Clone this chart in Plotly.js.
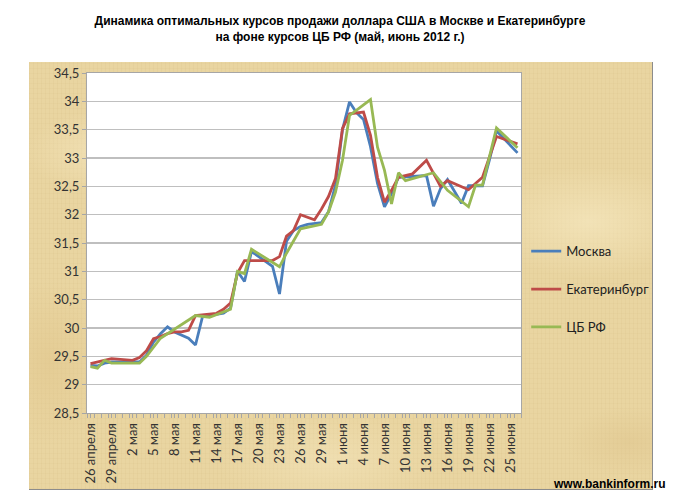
<!DOCTYPE html>
<html>
<head>
<meta charset="utf-8">
<script src="https://cdn.plot.ly/plotly-3.0.1.min.js"></script>
<style>
  html, body { margin: 0; padding: 0; background: #ffffff; }
  #wrap { position: relative; width: 680px; height: 500px; overflow: hidden; }
  #parch {
    position: absolute; left: 29px; top: 62px; width: 623px; height: 427px;
    background-color: #e9d5a1;
    background-image:
      radial-gradient(ellipse 120px 60px at 80px 90px, rgba(245,230,190,0.7), rgba(245,230,190,0) 70%),
      radial-gradient(ellipse 150px 80px at 560px 160px, rgba(246,232,192,0.7), rgba(246,232,192,0) 70%),
      radial-gradient(ellipse 160px 70px at 300px 400px, rgba(244,229,188,0.6), rgba(244,229,188,0) 70%),
      radial-gradient(ellipse 90px 50px at 600px 380px, rgba(222,196,140,0.5), rgba(222,196,140,0) 70%),
      radial-gradient(ellipse 80px 120px at 20px 300px, rgba(225,198,140,0.6), rgba(225,198,140,0) 70%),
      repeating-linear-gradient(90deg, rgba(200,170,110,0.10) 0px, rgba(200,170,110,0.10) 1px, rgba(0,0,0,0) 1px, rgba(0,0,0,0) 4px),
      repeating-linear-gradient(0deg, rgba(200,170,110,0.08) 0px, rgba(200,170,110,0.08) 1px, rgba(0,0,0,0) 1px, rgba(0,0,0,0) 5px);
    border-right: 1px solid #8c8c8c; border-bottom: 1px solid #8c8c8c;
  }
  #chart { position: absolute; left: 0; top: 0; width: 680px; height: 500px; }
</style>
</head>
<body>
<div id="wrap">
  <div id="parch"></div>
  <div id="chart"></div>
</div>
<script>
// Calendar days shown on the chart (one slot per day)
var days = [
  "2012-04-26","2012-04-27","2012-04-28","2012-04-29","2012-04-30",
  "2012-05-01","2012-05-02","2012-05-03","2012-05-04","2012-05-05",
  "2012-05-06","2012-05-07","2012-05-08","2012-05-09","2012-05-10",
  "2012-05-11","2012-05-12","2012-05-13","2012-05-14","2012-05-15",
  "2012-05-16","2012-05-17","2012-05-18","2012-05-19","2012-05-20",
  "2012-05-21","2012-05-22","2012-05-23","2012-05-24","2012-05-25",
  "2012-05-26","2012-05-27","2012-05-28","2012-05-29","2012-05-30",
  "2012-05-31","2012-06-01","2012-06-02","2012-06-03","2012-06-04",
  "2012-06-05","2012-06-06","2012-06-07","2012-06-08","2012-06-09",
  "2012-06-10","2012-06-11","2012-06-12","2012-06-13","2012-06-14",
  "2012-06-15","2012-06-16","2012-06-17","2012-06-18","2012-06-19",
  "2012-06-20","2012-06-21","2012-06-22","2012-06-23","2012-06-24",
  "2012-06-25","2012-06-26"
];

// Москва
var moscow = [
  29.34, 29.33, 29.38, 29.40, null,
  null, 29.40, 29.40, 29.52, 29.75,
  29.90, 30.02, 29.93, null, 29.82,
  29.70, 30.20, null, null, 30.26,
  30.35, 31.00, 30.82, 31.35, null,
  null, 31.09, 30.60, 31.53, 31.72,
  31.79, 31.83, null, 31.86, 32.05,
  32.52, 33.50, 33.99, 33.80, 33.68,
  33.20, 32.55, 32.14, 32.37, 32.66,
  null, null, null, 32.69, 32.15,
  32.46, 32.62, null, 32.20, 32.51,
  null, 32.51, 32.97, 33.48, null,
  null, 33.09
];

// Екатеринбург
var ekb = [
  29.37, 29.40, null, 29.46, null,
  null, 29.43, 29.48, 29.60, 29.81,
  29.85, 29.90, 29.93, 29.93, 29.96,
  30.22, null, null, 30.26, 30.33,
  30.44, 30.97, 31.19, null, null,
  null, 31.19, 31.26, 31.62, 31.72,
  32.00, null, 31.91, 32.10, 32.32,
  32.64, 33.52, 33.78, null, 33.81,
  33.40, 32.66, 32.22, 32.43, 32.66,
  null, 32.72, null, 32.96, null,
  32.50, 32.60, null, null, 32.44,
  null, 32.66, null, 33.38, null,
  null, 33.25
];

// ЦБ РФ
var cbr = [
  29.32, 29.29, 29.43, 29.38, null,
  null, null, 29.38, 29.50, null,
  29.82, null, null, null, null,
  30.22, null, 30.19, null, null,
  30.33, 31.00, 30.96, 31.39, null,
  null, null, 31.08, 31.32, null,
  31.75, null, null, 31.83, 32.05,
  32.40, 32.96, 33.75, null, null,
  34.03, 33.19, 32.78, 32.19, 32.74,
  32.60, null, null, null, 32.74,
  null, 32.43, null, null, 32.14,
  32.52, 32.52, null, 33.53, null,
  null, 33.18
];

var seriesNames = ["Москва", "Екатеринбург", "ЦБ РФ"];

var tickDays = ["2012-04-26","2012-04-29","2012-05-02","2012-05-05","2012-05-08",
  "2012-05-11","2012-05-14","2012-05-17","2012-05-20","2012-05-23","2012-05-26",
  "2012-05-29","2012-06-01","2012-06-04","2012-06-07","2012-06-10","2012-06-13",
  "2012-06-16","2012-06-19","2012-06-22","2012-06-25"];
var tickLabels = ["26 апреля","29 апреля","2 мая","5 мая","8 мая","11 мая","14 мая",
  "17 мая","20 мая","23 мая","26 мая","29 мая","1 июня","4 июня","7 июня","10 июня",
  "13 июня","16 июня","19 июня","22 июня","25 июня"];

var colors = ["#4a7ebb", "#be4b48", "#98b954"];
var vals = [moscow, ekb, cbr];

var traces = vals.map(function (v, i) {
  return {
    type: "scatter", mode: "lines", x: days, y: v, name: seriesNames[i],
    connectgaps: true, legendgroup: "g" + i,
    line: { color: colors[i], width: 2.8 }
  };
});

var layout = {
  width: 680, height: 500,
  paper_bgcolor: "rgba(0,0,0,0)", plot_bgcolor: "#ffffff",
  margin: { l: 87, r: 159, t: 73, b: 87 },
  separators: ", ",
  font: { family: "Lato, sans-serif", color: "#222" },
  title: {
    text: "Динамика оптимальных курсов продажи доллара США в Москве и Екатеринбурге<br>на фоне курсов ЦБ РФ (май, июнь 2012 г.)",
    font: { family: "Liberation Sans, Arial, sans-serif", size: 12, color: "#000", weight: "bold" },
    x: 0.5, xanchor: "center", xref: "container",
    y: 0.95, yanchor: "middle", yref: "container"
  },
  xaxis: {
    type: "date",
    range: ["2012-04-25 12:00", "2012-06-26 12:00"],
    tickmode: "array", tickvals: tickDays, ticktext: tickLabels,
    tickangle: -90, ticks: "outside", ticklen: 4, tickcolor: "#a6a6a6",
    minor: { dtick: 86400000, tick0: "2012-04-25 12:00", ticks: "outside", ticklen: 4, tickcolor: "#a6a6a6", showgrid: false },
    tickfont: { family: "Lato, sans-serif", size: 13, color: "#333" },
    showline: true, linecolor: "#a6a6a6", linewidth: 1, mirror: true,
    showgrid: false, zeroline: false, fixedrange: true
  },
  yaxis: {
    range: [28.5, 34.5], dtick: 0.5, tick0: 28.5,
    ticks: "outside", ticklen: 4, tickcolor: "#a6a6a6",
    tickfont: { family: "Lato, sans-serif", size: 13, color: "#333" },
    showline: true, linecolor: "#a6a6a6", linewidth: 1, mirror: true,
    showgrid: true, gridcolor: "#bfbfbf", gridwidth: 1.5, zeroline: false,
    fixedrange: true
  },
  showlegend: true,
  legend: {
    x: 1.012, xanchor: "left", y: 0.52, yanchor: "top",
    bgcolor: "rgba(0,0,0,0)", tracegroupgap: 18,
    font: { family: "Lato, sans-serif", size: 13, color: "#222" }
  },
  annotations: [{
    text: "<b>www.bankinform.ru</b>", xref: "paper", yref: "paper",
    x: (668 - 87) / 434, y: (413 - 484) / 340, xanchor: "right", yanchor: "middle",
    showarrow: false, font: { family: "Liberation Sans, Arial, sans-serif", size: 12, color: "#000" }
  }]
};

Plotly.newPlot("chart", traces, layout, { staticPlot: true, displayModeBar: false });
</script>
</body>
</html>
